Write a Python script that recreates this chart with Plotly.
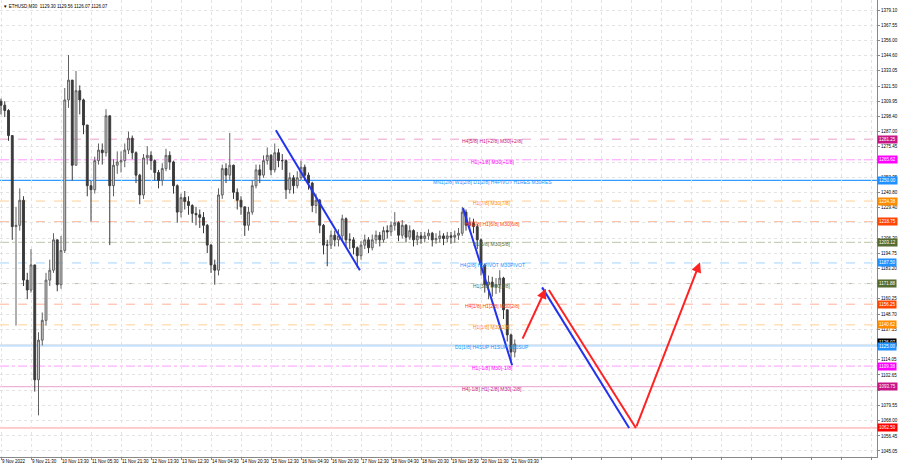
import plotly.graph_objects as go

# ---------------- data (ETHUSD, bars aggregated to 2h) ----------------
first_open = 1310.0
bar_close = [1307, 1303, 1284, 1215, 1216, 1235, 1174.5, 1167, 1186, 1099,
             1129, 1144, 1174.5, 1182, 1205, 1171, 1197, 1311, 1326, 1261.5,
             1318, 1311, 1292, 1246, 1243, 1265, 1273, 1271, 1299, 1246,
             1261.5, 1264, 1265, 1273, 1282, 1271, 1254, 1239, 1267, 1269,
             1265, 1256, 1250, 1259, 1269, 1264, 1246, 1226, 1237, 1234,
             1231, 1225, 1224, 1222, 1216, 1201, 1186, 1182, 1239, 1259,
             1254, 1261.5, 1241, 1235, 1230, 1216, 1226, 1246, 1258, 1254,
             1265, 1269, 1258, 1271, 1265, 1265, 1243, 1252, 1246, 1252,
             1260, 1254, 1248, 1231, 1235, 1216, 1201, 1201, 1208.5, 1205,
             1208, 1221, 1205, 1205, 1199, 1193, 1201, 1205, 1199, 1205,
             1208.5, 1205, 1212, 1211, 1216, 1218, 1208.5, 1216, 1207, 1212,
             1205, 1208, 1206, 1208, 1210, 1205, 1206, 1208, 1206, 1208,
             1207, 1208.5, 1210, 1226, 1216, 1218, 1215, 1205, 1186, 1171,
             1173, 1169.5, 1171, 1176, 1152, 1133, 1120, 1126.07]
bar_high = [1312, 1310, 1304, 1284, 1230, 1244, 1238, 1180, 1198, 1186,
            1135, 1150, 1180, 1190, 1210, 1205, 1208, 1320, 1345, 1326,
            1333, 1322, 1312, 1292, 1250, 1268, 1278, 1278, 1304, 1299,
            1266, 1272, 1272, 1278, 1287, 1284, 1272, 1255, 1270, 1276,
            1272, 1266, 1258, 1263, 1274, 1272, 1265, 1247, 1240, 1242,
            1238, 1232, 1230, 1228, 1226, 1217, 1202, 1190, 1244, 1262,
            1263, 1286, 1262, 1244, 1238, 1230, 1230, 1250, 1262, 1262,
            1269, 1275, 1270, 1278, 1274, 1270, 1266, 1256, 1254, 1257,
            1265, 1262, 1256, 1249, 1240, 1236, 1217, 1205, 1212, 1212,
            1213, 1224, 1222, 1210, 1207, 1200, 1204, 1209, 1207, 1209,
            1212, 1211, 1215, 1216, 1219, 1226, 1219, 1220, 1217, 1216,
            1213, 1211, 1211, 1211, 1213, 1211, 1210, 1212, 1210, 1211,
            1211, 1212, 1214, 1230, 1228, 1222, 1221, 1217, 1206, 1187,
            1178, 1177, 1176, 1182, 1177, 1152, 1134, 1129.56]
bar_low = [1300, 1298, 1280, 1205, 1140, 1212, 1170, 1160, 1165, 1090,
           1072, 1125, 1140, 1170, 1180, 1166, 1168, 1195, 1305, 1250,
           1262, 1300, 1285, 1238, 1219, 1240, 1262, 1262, 1268, 1201,
           1238, 1255, 1256, 1260, 1270, 1266, 1248, 1232, 1236, 1262,
           1258, 1250, 1244, 1246, 1257, 1258, 1240, 1218, 1222, 1228,
           1224, 1218, 1216, 1214, 1210, 1195, 1180, 1171, 1178, 1236,
           1248, 1250, 1236, 1228, 1224, 1208, 1212, 1224, 1244, 1248,
           1252, 1262, 1254, 1256, 1260, 1258, 1236, 1240, 1240, 1244,
           1250, 1250, 1243, 1226, 1225, 1210, 1194, 1185, 1198, 1200,
           1200, 1205, 1200, 1198, 1194, 1184, 1190, 1198, 1195, 1197,
           1202, 1200, 1203, 1206, 1208, 1212, 1204, 1206, 1203, 1205,
           1200, 1201, 1202, 1203, 1205, 1200, 1202, 1203, 1201, 1203,
           1202, 1203, 1205, 1208, 1212, 1212, 1210, 1198, 1178, 1165,
           1160, 1162, 1164, 1165, 1145, 1128, 1112, 1116]

# x-axis time labels (one every 8 bars)
time_labels = ["9 Nov 2022", "9 Nov 21:30", "10 Nov 13:30", "11 Nov 05:30", "11 Nov 21:30",
               "12 Nov 13:30", "13 Nov 12:30", "14 Nov 04:30", "14 Nov 20:30", "15 Nov 12:30",
               "16 Nov 04:30", "16 Nov 20:30", "17 Nov 12:30", "18 Nov 04:30", "18 Nov 20:30",
               "19 Nov 18:30", "20 Nov 11:30", "21 Nov 03:30"]

price_ticks = [1379.10, 1367.55, 1356.00, 1344.60, 1333.05, 1321.50, 1309.95, 1298.40,
               1287.00, 1275.45, 1263.90, 1252.35, 1240.80, 1229.40, 1217.85, 1206.30,
               1194.75, 1183.20, 1171.65, 1160.25, 1148.70, 1137.15, 1125.60, 1114.05,
               1102.65, 1091.10, 1079.55, 1068.00, 1056.45, 1045.05]
# tick labels that sit fully under a price tag in the reference
hidden_ticks = [1263.90, 1217.85, 1171.65, 1125.60, 1091.10]

# Murrey-style levels
level_prices = [1281.25, 1265.62, 1250.00, 1234.38, 1218.75, 1203.12, 1187.50,
                1171.88, 1156.25, 1140.62, 1125.00, 1109.38, 1093.75, 1062.50]
level_texts = ["H4[5/8] H1[+2/8] M30[+2/8]", "H1[+1/8] M30[+1/8]",
               "MN1[2/8] W1[2/8] D1[2/8] H4PIVOT H1RES M30RES", "H1[7/8] M30[7/8]",
               "H4[3/8] H1[6/8] M30[6/8]", "H1[5/8] M30[5/8]", "H4[2/8] H1PIVOT M30PIVOT",
               "H1[3/8] M30[3/8]", "H4[1/8] H1[2/8] M30[2/8]", "H1[1/8] M30[1/8]",
               "D1[1/8] H4SUP H1SUP M30SUP", "H1[-1/8] M30[-1/8]",
               "H4[-1/8] H1[-2/8] M30[-2/8]", ""]
level_colors = ["#C71585", "#FF00FF", "#1E90FF", "#FF8C00", "#FF4500", "#556B2F", "#1E90FF",
                "#556B2F", "#FF4500", "#FF8C00", "#1E90FF", "#FF00FF", "#C71585", "#FF0000"]
level_dash = ["dash", "dashdot", "solid", "dash", "dash", "dashdot", "dash",
              "dashdot", "dash", "dash", "solid", "dashdot", "solid", "solid"]

current_price = 1126.07
ohlc_title = "ETHUSD,M30  1129.30 1129.56 1126.07 1126.07"

# drawn trend lines / projections: (bar index start, price start, bar index end, price end)
blue_seg_x0 = [73.3, 123.2, 144.3]
blue_seg_y0 = [1288.0, 1229.0, 1169.0]
blue_seg_x1 = [95.7, 136.3, 167.5]
blue_seg_y1 = [1182.0, 1110.0, 1062.5]
red_seg_x0 = [146.1]
red_seg_y0 = [1167.0]
red_seg_x1 = [169.3]
red_seg_y1 = [1062.5]
red_arrow_x0 = [138.9, 169.3]
red_arrow_y0 = [1129.0, 1062.5]
red_arrow_x1 = [145.3, 186.4]
red_arrow_y1 = [1168.0, 1188.0]
label_bar = 131.0

# ---------------- figure ----------------
n = len(bar_close)
bar_open = [first_open] + bar_close[:-1]
hi = [max(h, o, c) for h, o, c in zip(bar_high, bar_open, bar_close)]
lo = [min(l, o, c) for l, o, c in zip(bar_low, bar_open, bar_close)]
xs = list(range(n))

fig = go.Figure()

fig.add_trace(go.Candlestick(
    x=xs, open=bar_open, high=hi, low=lo, close=bar_close,
    increasing=dict(line=dict(color="#606060", width=1), fillcolor="#d9d9d9"),
    decreasing=dict(line=dict(color="#3a3a3a", width=1), fillcolor="#3a3a3a"),
    whiskerwidth=0, showlegend=False, hoverinfo="skip"))

FONT = "Liberation Sans, Arial, sans-serif"

# level lines
for p, c, d, w in zip(level_prices, level_colors, level_dash,
                      [1, 1, 1.2, 1, 1, 1, 1, 1, 1, 1, 2.5, 1, 1, 1]):
    op = 0.9 if p == 1250.00 else (0.25 if p == 1125.00 else 0.4)
    fig.add_shape(type="line", xref="paper", x0=0, x1=1, yref="y", y0=p, y1=p,
                  line=dict(color=c, width=w, dash=d), opacity=op, layer="below")

# level text labels
for p, t, c in zip(level_prices, level_texts, level_colors):
    if t:
        fig.add_annotation(x=label_bar, y=p, xref="x", yref="y", text=t, showarrow=False,
                           font=dict(family=FONT, size=5, color=c), yshift=-2,
                           xanchor="center", yanchor="middle")

# trend lines
for x0, y0, x1, y1 in zip(blue_seg_x0, blue_seg_y0, blue_seg_x1, blue_seg_y1):
    fig.add_trace(go.Scatter(x=[x0, x1], y=[y0, y1], mode="lines",
                             line=dict(color="#2233ee", width=2),
                             showlegend=False, hoverinfo="skip"))
for x0, y0, x1, y1 in zip(red_seg_x0, red_seg_y0, red_seg_x1, red_seg_y1):
    fig.add_trace(go.Scatter(x=[x0, x1], y=[y0, y1], mode="lines",
                             line=dict(color="#ff2222", width=2),
                             showlegend=False, hoverinfo="skip"))
for x0, y0, x1, y1 in zip(red_arrow_x0, red_arrow_y0, red_arrow_x1, red_arrow_y1):
    fig.add_annotation(x=x1, y=y1, ax=x0, ay=y0, xref="x", yref="y", axref="x", ayref="y",
                       showarrow=True, arrowhead=2, arrowsize=1, arrowwidth=2,
                       arrowcolor="#ff2222", text="")

# right-side price tags
for p, c in zip(level_prices, level_colors):
    if p == 1125.00:
        continue
    fig.add_annotation(x=1, xref="paper", y=p, yref="y", text=f"{p:.2f}", showarrow=False,
                       xanchor="left", yanchor="middle", bgcolor=c, borderpad=1,
                       font=dict(family=FONT, size=4.5, color="white"))
fig.add_annotation(x=1, xref="paper", y=current_price, yref="y", text=f"{current_price:.2f}",
                   showarrow=False, xanchor="left", yanchor="middle", bgcolor="black",
                   borderpad=1, yshift=2, font=dict(family=FONT, size=4.5, color="white"))
fig.add_annotation(x=1, xref="paper", y=1125.00, yref="y", text="1125.00",
                   showarrow=False, xanchor="left", yanchor="middle", bgcolor="#1E90FF",
                   borderpad=1, yshift=-1, font=dict(family=FONT, size=4.5, color="white"))

# title
fig.add_annotation(x=0, y=1, xref="paper", yref="paper", text="\u25BC " + ohlc_title,
                   showarrow=False, xanchor="left", yanchor="top", xshift=1, yshift=-2,
                   font=dict(family=FONT, size=4.5, color="black"))

tickvals_x = list(range(0, 233, 8))
ticktext_x = [time_labels[i] if i < len(time_labels) else "" for i in range(len(tickvals_x))]
ticktext_y = ["" if v in hidden_ticks else f"{v:.2f}" for v in price_ticks]

fig.update_layout(
    width=900, height=468,
    margin=dict(l=0, r=23, t=0, b=11, autoexpand=False),
    paper_bgcolor="white", plot_bgcolor="white",
    font=dict(family=FONT, size=4.5, color="black"),
    showlegend=False,
    xaxis=dict(range=[-0.27, 233.6], tickvals=tickvals_x, ticktext=ticktext_x,
               showgrid=True, gridcolor="#e3e3e3", griddash="dot", gridwidth=1,
               ticks="outside", ticklen=2, tickcolor="#888888", tickangle=0,
               ticklabelposition="outside right", automargin=False,
               tickfont=dict(family=FONT, size=4.5, color="black"),
               showline=True, linecolor="#888888", linewidth=1, mirror=True,
               zeroline=False, rangeslider=dict(visible=False), fixedrange=True),
    yaxis=dict(range=[1040.5, 1386.68], side="right", tickvals=price_ticks,
               ticktext=ticktext_y, automargin=False,
               showgrid=True, gridcolor="#e3e3e3", griddash="dot", gridwidth=1,
               ticks="outside", ticklen=2, tickcolor="#888888",
               tickfont=dict(family=FONT, size=4.5, color="black"),
               showline=True, linecolor="#888888", linewidth=1, mirror=True,
               zeroline=False, fixedrange=True),
)

fig.write_html("out.html", config={"displayModeBar": False},
               post_script="document.body.style.margin='0';")
